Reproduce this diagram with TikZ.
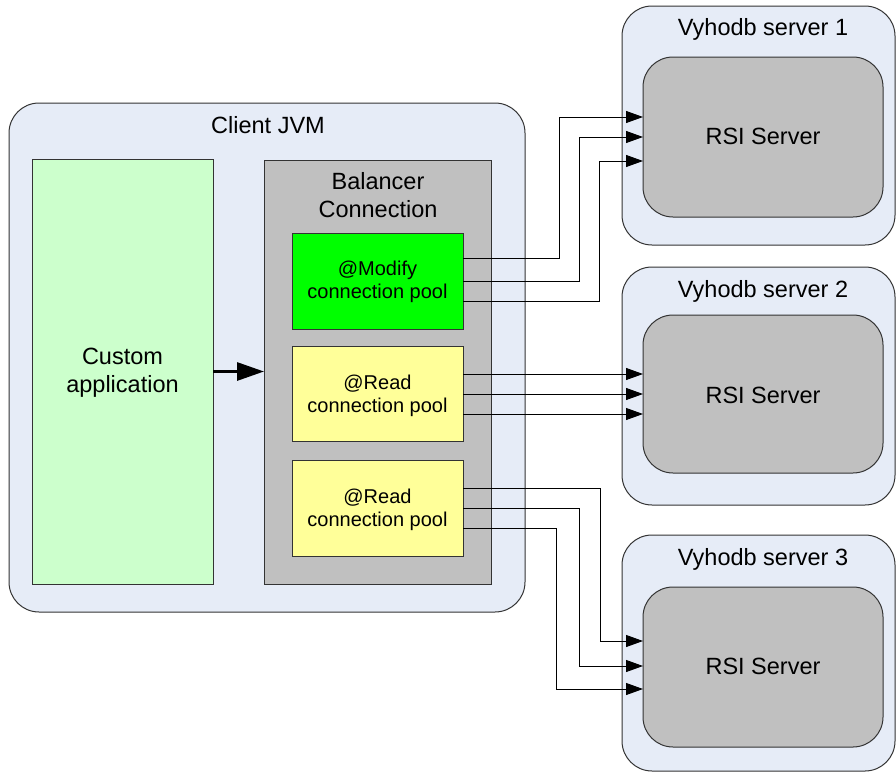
\documentclass[tikz,border=0pt]{standalone}
\usepackage{fontspec}
\setmainfont{Liberation Sans}
\usetikzlibrary{arrows.meta,calc}
\definecolor{jvmblue}{HTML}{E6ECF7}
\definecolor{boxgray}{HTML}{C0C0C0}
\definecolor{appgreen}{HTML}{CCFFCC}
\definecolor{modgreen}{HTML}{00FF00}
\definecolor{readyellow}{HTML}{FFFF99}
\definecolor{edgecol}{HTML}{333333}
\begin{document}
\begin{tikzpicture}[x=1pt,y=-1pt,
  box/.style={draw=edgecol, line width=1pt, inner sep=0pt, outer sep=0pt, rectangle},
  rbox/.style={box, rounded corners=30pt},
  title/.style={font=\fontsize{23.5}{28}\selectfont, inner sep=0pt, anchor=base},
  pooltext/.style={font=\fontsize{20}{23}\selectfont, inner sep=0pt, anchor=north, align=center},
  conn/.style={draw=black, line width=1pt, -{Triangle[length=17pt,width=12pt]}},
  bigarrow/.style={draw=black, line width=3pt, -{Triangle[length=27pt,width=18pt]}}
]
\useasboundingbox (0,0) rectangle (896,771);

% client side
\node[rbox, fill=jvmblue, minimum width=516pt, minimum height=509pt] (jvm) at (267,357.5) {};
\node[box, fill=appgreen, minimum width=181pt, minimum height=425pt] (app) at (122.5,371.5) {};
\node[box, fill=boxgray, minimum width=227pt, minimum height=424pt] (bal) at (377.5,372) {};
\node[box, fill=modgreen, minimum width=171pt, minimum height=96pt] (mod) at (377.5,281) {};
\node[box, fill=readyellow, minimum width=171pt, minimum height=95pt] (rd1) at (377.5,394) {};
\node[box, fill=readyellow, minimum width=171pt, minimum height=96pt] (rd2) at (377.5,508) {};

% servers
\node[rbox, fill=jvmblue, minimum width=273pt, minimum height=239pt] (s1) at (758.5,125.5) {};
\node[rbox, fill=jvmblue, minimum width=273pt, minimum height=238pt] (s2) at (758.5,386) {};
\node[rbox, fill=jvmblue, minimum width=273pt, minimum height=236pt] (s3) at (758.5,653) {};
\node[rbox, fill=boxgray, minimum width=240pt, minimum height=160pt] (in1) at (763,137) {};
\node[rbox, fill=boxgray, minimum width=240pt, minimum height=158pt] (in2) at (763,394) {};
\node[rbox, fill=boxgray, minimum width=240pt, minimum height=160pt] (in3) at (763,667) {};

% texts
\node[title] (tjvm) at (268,133) {Client JVM};
\node[title] (ts1) at (763,35) {Vyhodb server 1};
\node[title] (ts2) at (763,297) {Vyhodb server 2};
\node[title] (ts3) at (763,565) {Vyhodb server 3};
\node[title] (tr1) at (763,144) {RSI Server};
\node[title] (tr2) at (763,403) {RSI Server};
\node[title] (tr3) at (763,674) {RSI Server};
\node[title, anchor=north, align=center] (tbal) at (378,172) {Balancer\\Connection};
\node[title, anchor=north, align=center] (tapp) at (122.5,347.5) {Custom\\application};
\node[pooltext] (tmod) at (377.5,260.5) {@Modify\\connection pool};
\node[pooltext] (trd1) at (377.5,374.5) {@Read\\connection pool};
\node[pooltext] (trd2) at (377.5,488.5) {@Read\\connection pool};

% connectors
\draw[bigarrow] (app.east) -- (app.east -| bal.west);
\draw[conn] ([yshift=23pt]mod.east) -- ++(96,0) |- ([yshift=20pt]in1.west);
\draw[conn] (mod.east) -- ++(116,0) |- (in1.west);
\draw[conn] ([yshift=-20pt]mod.east) -- ++(136,0) |- ([yshift=-24pt]in1.west);
\draw[conn] ([yshift=20pt]rd1.east) -- ([yshift=20pt]in2.west);
\draw[conn] (rd1.east) -- (in2.west);
\draw[conn] ([yshift=-20pt]rd1.east) -- ([yshift=-20pt]in2.west);
\draw[conn] ([yshift=20pt]rd2.east) -- ++(137,0) |- ([yshift=26pt]in3.west);
\draw[conn] (rd2.east) -- ++(116,0) |- ([yshift=1pt]in3.west);
\draw[conn] ([yshift=-20pt]rd2.east) -- ++(93,0) |- ([yshift=-22pt]in3.west);
\end{tikzpicture}
\end{document}
